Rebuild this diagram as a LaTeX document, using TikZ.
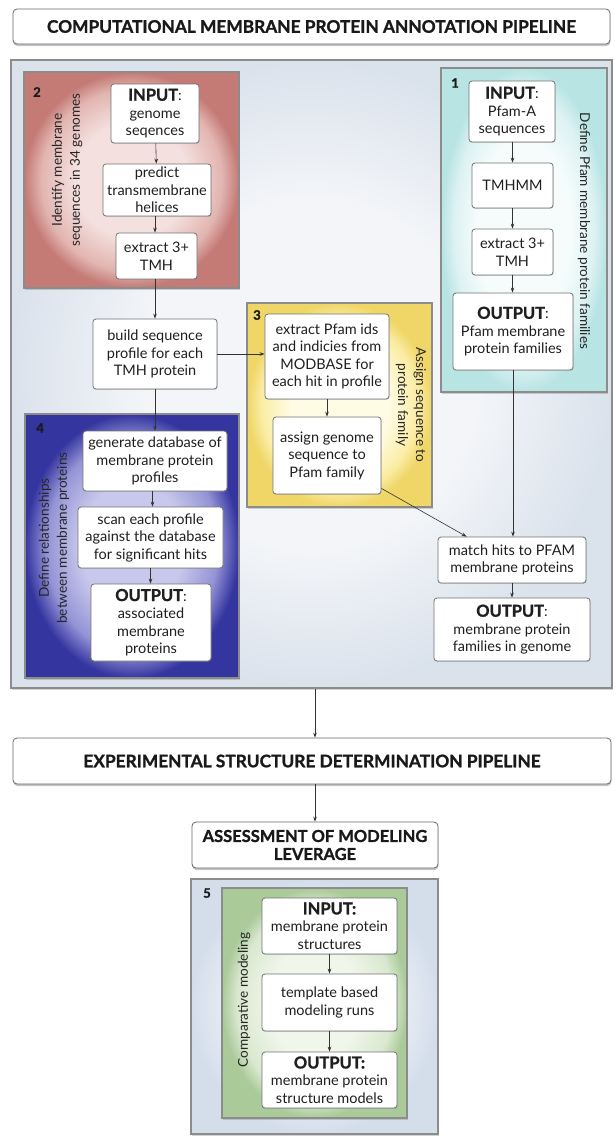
\documentclass[tikz,border=0pt]{standalone}
\usepackage{fontspec}
\setmainfont{Lato}
\newfontfamily\heavy{Lato}[BoldFeatures={FakeBold=1.2}]
\usetikzlibrary{arrows.meta,shadows,calc}
\definecolor{compin}{HTML}{F3F5F8}\definecolor{compout}{HTML}{DAE2EC}
\definecolor{redin}{HTML}{F4E1DF}\definecolor{redmid}{HTML}{E2B5B1}\definecolor{redout}{HTML}{C47A75}
\definecolor{cyanin}{HTML}{F6FCFC}\definecolor{cyanmid}{HTML}{DDF2F2}\definecolor{cyanout}{HTML}{B9E4E4}
\definecolor{yelin}{HTML}{FFFCE6}\definecolor{yelmid}{HTML}{FBEDA6}\definecolor{yelout}{HTML}{EFD666}
\definecolor{bluin}{HTML}{C8C8EC}\definecolor{blumid}{HTML}{9494D6}\definecolor{bluout}{HTML}{3535A0}
\definecolor{p5in}{HTML}{F1F4F8}\definecolor{p5out}{HTML}{D4DEEB}
\definecolor{grnin}{HTML}{F1F6EB}\definecolor{grnmid}{HTML}{D9E8CF}\definecolor{grnout}{HTML}{AACA9A}
\pgfdeclareradialshading{compsh}{\pgfpoint{0bp}{0bp}}{color(0bp)=(compin);color(14bp)=(compin);color(25bp)=(compout);color(50bp)=(compout)}
\pgfdeclareradialshading{redsh}{\pgfpoint{0bp}{0bp}}{color(0bp)=(redin);color(13bp)=(redin);color(21bp)=(redmid);color(25bp)=(redout);color(50bp)=(redout)}
\pgfdeclareradialshading{cyansh}{\pgfpoint{0bp}{0bp}}{color(0bp)=(cyanin);color(14bp)=(cyanin);color(21bp)=(cyanmid);color(25bp)=(cyanout);color(50bp)=(cyanout)}
\pgfdeclareradialshading{yelsh}{\pgfpoint{0bp}{0bp}}{color(0bp)=(yelin);color(13bp)=(yelin);color(21bp)=(yelmid);color(25bp)=(yelout);color(50bp)=(yelout)}
\pgfdeclareradialshading{blush}{\pgfpoint{0bp}{0bp}}{color(0bp)=(bluin);color(12bp)=(bluin);color(20bp)=(blumid);color(25bp)=(bluout);color(50bp)=(bluout)}
\pgfdeclareradialshading{p5sh}{\pgfpoint{0bp}{0bp}}{color(0bp)=(p5in);color(14bp)=(p5in);color(25bp)=(p5out);color(50bp)=(p5out)}
\pgfdeclareradialshading{grnsh}{\pgfpoint{0bp}{0bp}}{color(0bp)=(grnin);color(12bp)=(grnin);color(21bp)=(grnmid);color(25bp)=(grnout);color(50bp)=(grnout)}
\newcommand{\kw}[1]{{\heavy\bfseries\fontsize{16.5}{17.5}\selectfont #1}}
\begin{document}
\begin{tikzpicture}[x=1pt,y=-1pt,
  bx/.style={draw=black!55, line width=0.8pt, fill=white, rounded corners=3pt, align=center, inner sep=1pt,
    font=\fontsize{14.5}{17.5}\selectfont, text=black!88,
    drop shadow={shadow xshift=0.6pt, shadow yshift=-0.9pt, opacity=0.3}},
  hdr/.style={draw=black!60, line width=0.8pt, fill=white, rounded corners=4pt, align=center,
    font=\heavy\bfseries\fontsize{17.3}{18}\selectfont, text=black!90,
    drop shadow={shadow xshift=0.4pt, shadow yshift=-2pt, opacity=0.45}},
  ar/.style={-{Stealth[length=5pt,width=3.6pt]}, line width=0.6pt, draw=black!80},
  panel/.style={draw=black!45, line width=1.6pt, inner sep=0pt,
    drop shadow={shadow xshift=0.5pt, shadow yshift=-1.5pt, opacity=0.35}},
  num/.style={font=\heavy\bfseries\fontsize{13}{13}\selectfont, inner sep=0pt, text=black!90},
  side/.style={align=center, font=\fontsize{13.6}{18}\selectfont, text=black!85, inner sep=0pt}
]
\useasboundingbox (0,0) rectangle (614,1136);
\fill[white] (0,0) rectangle (614,1136);

% header
\node[hdr, minimum width=597pt, minimum height=35pt] (h1) at (311.5,26.5) {COMPUTATIONAL MEMBRANE PROTEIN ANNOTATION PIPELINE};

% main panel
\node[panel, shading=compsh, minimum width=601pt, minimum height=628pt] (comp) at (311.5,374) {};

% panels
\node[panel, shading=redsh, minimum width=215pt, minimum height=216pt] (p2) at (131.5,180) {};
\node[panel, shading=cyansh, minimum width=166pt, minimum height=324pt] (p1) at (524,230) {};
\node[panel, shading=yelsh, minimum width=185pt, minimum height=204pt] (p3) at (339.5,405) {};
\node[panel, shading=blush, minimum width=214pt, minimum height=264pt] (p4) at (132,546) {};

% panel numbers and side labels
\node[num] (n2) at (37,92) {2};
\node[num] (n1) at (455,83) {1};
\node[num] (n3) at (257,315) {3};
\node[num] (n4) at (40,428) {4};
\node[side, rotate=90] (s2) at (67,170) {Identify membrane\\sequences in 34 genomes};
\node[side, rotate=-90] (s1) at (584,231) {Define Pfam membrane protein families};
\node[side, rotate=-90] (s3) at (411,405) {Assign sequence to\\protein family};
\node[side, rotate=90] (s4) at (54,538) {Define relationships\\between membrane proteins};

% panel 2 boxes
\node[bx, minimum width=88pt, minimum height=59pt] (in2) at (155,113.5) {\kw{INPUT}:\\genome\\seqences};
\node[bx, minimum width=108pt, minimum height=52pt] (pr2) at (157,190) {predict\\transmembrane\\helices};
\node[bx, minimum width=81pt, minimum height=46pt] (ex2) at (156.5,256) {extract 3+\\TMH};

% build
\node[bx, minimum width=124pt, minimum height=70pt] (build) at (155,354) {build sequence\\profile for each\\TMH protein};

% panel 1 boxes
\node[bx, minimum width=86pt, minimum height=61pt] (in1) at (512,111.5) {\kw{INPUT}:\\Pfam-A\\sequences};
\node[bx, minimum width=81pt, minimum height=45pt] (tm1) at (512.5,185.5) {TMHMM};
\node[bx, minimum width=81pt, minimum height=46pt] (ex1) at (512.5,252) {extract 3+\\TMH};
\node[bx, minimum width=120pt, minimum height=77pt] (out1) at (513,331.5) {\kw{OUTPUT}:\\Pfam membrane\\protein families};

% panel 3 boxes
\node[bx, minimum width=124pt, minimum height=85pt] (exP) at (327,356.5) {extract Pfam ids\\and indicies from\\MODBASE for\\each hit in profile};
\node[bx, minimum width=108pt, minimum height=77pt] (asg) at (327,455.5) {assign genome\\sequence to\\Pfam family};

% panel 4 boxes
\node[bx, minimum width=144pt, minimum height=60pt] (gen) at (155,461) {generate database of\\membrane protein\\profiles};
\node[bx, minimum width=145pt, minimum height=61pt] (scan) at (150.5,537.5) {scan each profile\\against the database\\for significant hits};
\node[bx, minimum width=120pt, minimum height=77pt] (out4) at (151,622.5) {\kw{OUTPUT}:\\associated\\membrane\\proteins};

% match / output genome
\node[bx, minimum width=148pt, minimum height=46pt] (match) at (512,560) {match hits to PFAM\\membrane proteins};
\node[bx, minimum width=156pt, minimum height=63pt] (outG) at (512,629.5) {\kw{OUTPUT}:\\membrane protein\\families in genome};

% lower headers
\node[hdr, minimum width=598pt, minimum height=46pt] (h2) at (312,761) {EXPERIMENTAL STRUCTURE DETERMINATION PIPELINE};
\node[hdr, minimum width=246pt, minimum height=46pt, font=\heavy\bfseries\fontsize{16.5}{18}\selectfont] (ass) at (315,845) {ASSESSMENT OF MODELING\\LEVERAGE};

% panel 5
\node[panel, shading=p5sh, minimum width=247pt, minimum height=255pt] (p5) at (314.5,1006.5) {};
\node[panel, shading=grnsh, line width=1.4pt, minimum width=185pt, minimum height=230pt, drop shadow={opacity=0}] (g5) at (314.5,1003) {};
\node[num] (n5) at (207,893) {5};
\node[side, rotate=90] (s5) at (244,1000) {Comparative modeling};
\node[bx, minimum width=135pt, minimum height=56pt] (in5) at (329.5,926) {\kw{INPUT:}\\membrane protein\\structures};
\node[bx, minimum width=135pt, minimum height=57pt] (tp5) at (329.5,1002.5) {template based\\modeling runs};
\node[bx, minimum width=135pt, minimum height=56pt] (out5) at (329.5,1080) {\kw{OUTPUT:}\\membrane protein\\structure models};

% connectors
\draw[ar] (in2) -- (pr2);
\draw[ar] (pr2.south -| in2) -- (ex2.north -| in2);
\draw[ar] (ex2.south -| build) -- (build.north);
\draw[ar] (build.south) -- (gen.north);
\draw[ar] (gen.south -| 152.5,0) -- (scan.north -| 152.5,0);
\draw[ar] (scan.south) -- (out4.north -| scan);
\draw[ar] (in1.south -| tm1) -- (tm1.north);
\draw[ar] (tm1) -- (ex1);
\draw[ar] (ex1.south) -- (out1.north -| ex1);
\draw[ar] (build.east) -- (build.east -| exP.west);
\draw[ar] (exP) -- (asg);
\draw[ar] (out1.south) -- (match.north -| out1);
\draw[ar] ($(asg.south east)+(0,-6)$) -- ($(match.north west)+(29,0)$);
\draw[ar] (match) -- (outG);
\draw[ar] (comp.south -| ass) -- (h2.north -| ass);
\draw[ar] (h2.south -| ass) -- (ass.north);
\draw[ar] (in5) -- (tp5);
\draw[ar] (tp5) -- (out5);
\end{tikzpicture}
\end{document}
